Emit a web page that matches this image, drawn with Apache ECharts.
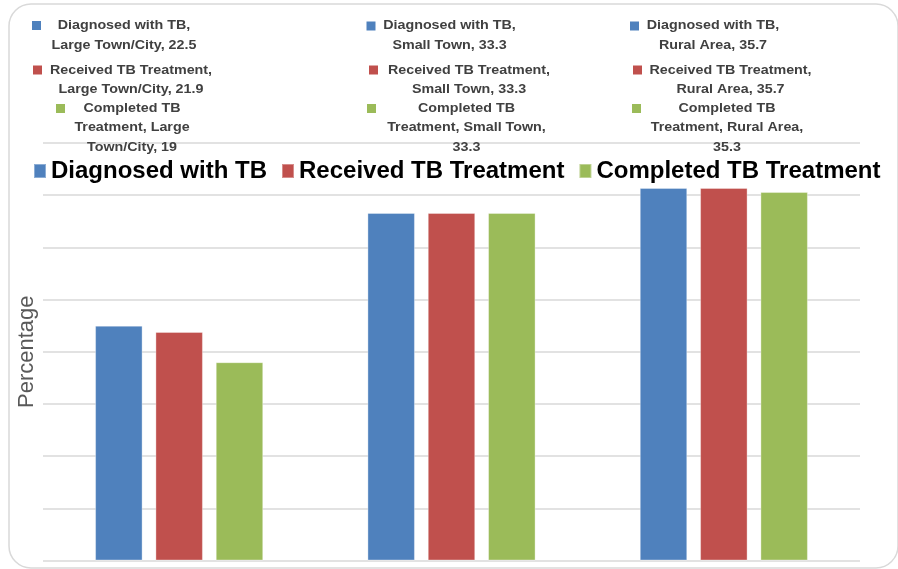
<!DOCTYPE html>
<html>
<head>
<meta charset="utf-8">
<script src="https://cdn.jsdelivr.net/npm/echarts@6/dist/echarts.min.js"></script>
<style>
html,body{margin:0;padding:0;background:#fff;}
#chart{width:898px;height:569px;}
</style>
</head>
<body>
<div id="chart"></div>
<script>
// ---- data ----
var categories = ['Large Town/City', 'Small Town', 'Rural Area'];
var seriesNames = ['Diagnosed with TB', 'Received TB Treatment', 'Completed TB Treatment'];
var diagnosed = [22.5, 33.3, 35.7];
var received = [21.9, 33.3, 35.7];
var completed = [19, 33.3, 35.3];
var yMin = 0, yMax = 40, yInterval = 5;

// ---- style / layout ----
var colors = ['#4F81BD', '#C0504D', '#9BBB59'];
var FONT = '"Liberation Sans", Arial, sans-serif';
// data label blocks placed at top: [series][category] -> centre, marker centre, words per line
var labelLayout = [
  [ {cx:124, cy:35.5, mx:36.5, my:25.5, w:[3,3]},
    {cx:449.5, cy:35.5, mx:371, my:26, w:[3,3]},
    {cx:713, cy:35.5, mx:634.5, my:26, w:[3,3]} ],
  [ {cx:131, cy:80, mx:37.5, my:70, w:[3,3]},
    {cx:469, cy:80, mx:373.5, my:70, w:[3,3]},
    {cx:730.5, cy:80, mx:637.5, my:70, w:[3,3]} ],
  [ {cx:132, cy:127.5, mx:60.5, my:108.5, w:[2,2,2]},
    {cx:466.5, cy:127.5, mx:371.5, my:108.5, w:[2,3,1]},
    {cx:727, cy:127.5, mx:636.5, my:108.5, w:[2,3,1]} ]
];

var values = [diagnosed, received, completed];

function wrapWords(str, counts) {
  var words = str.split(' ');
  var lines = [], k = 0;
  for (var i = 0; i < counts.length; i++) {
    lines.push(words.slice(k, k + counts[i]).join(' '));
    k += counts[i];
  }
  if (k < words.length) lines[lines.length - 1] += ' ' + words.slice(k).join(' ');
  return lines.join('\n');
}

var graphics = [];
// outer rounded frame
graphics.push({
  type: 'rect', x: 9, y: 4, z: 0, silent: true,
  shape: {width: 889, height: 564, r: 22},
  style: {fill: 'none', stroke: '#d9d9d9', lineWidth: 1.5}
});
for (var s = 0; s < seriesNames.length; s++) {
  for (var c = 0; c < categories.length; c++) {
    var L = labelLayout[s][c];
    var txt = seriesNames[s] + ', ' + categories[c] + ', ' + values[s][c];
    graphics.push({
      type: 'rect', x: L.mx - 4.5, y: L.my - 4.5, z: 10,
      shape: {width: 9, height: 9},
      style: {fill: colors[s]}
    });
    graphics.push({
      type: 'text', x: L.cx, y: L.cy, scaleX: 1.1, z: 10,
      style: {
        text: wrapWords(txt, L.w),
        align: 'center', verticalAlign: 'middle',
        font: 'bold 13px ' + FONT,
        lineHeight: 19.5,
        fill: '#404040'
      }
    });
  }
}

var chart = echarts.init(document.getElementById('chart'), null, {renderer: 'canvas'});
var series = seriesNames.map(function (name, i) {
  return {
    name: name,
    type: 'bar',
    data: values[i],
    barWidth: 47.5,
    barGap: '27%',
    itemStyle: {color: colors[i], borderColor: 'rgba(255,255,255,0.35)', borderWidth: 1},
    emphasis: {disabled: true}
  };
});

chart.setOption({
  animation: false,
  backgroundColor: '#ffffff',
  textStyle: {fontFamily: FONT},
  legend: {
    data: seriesNames,
    left: 33, top: 159, padding: 0,
    icon: 'rect', itemWidth: 12, itemHeight: 14, itemGap: 14,
    textStyle: {fontSize: 24, fontWeight: 'bold', color: '#000000', fontFamily: FONT}
  },
  grid: {left: 43, right: 38, top: 143, bottom: 8.5, containLabel: false},
  xAxis: {
    type: 'category', data: categories,
    axisLine: {show: false}, axisTick: {show: false}, axisLabel: {show: false}
  },
  yAxis: {
    type: 'value', min: yMin, max: yMax, interval: yInterval,
    name: 'Percentage', nameLocation: 'middle', nameGap: 5,
    nameTextStyle: {fontSize: 22, color: '#595959', fontFamily: FONT},
    axisLine: {show: false}, axisTick: {show: false}, axisLabel: {show: false},
    splitLine: {lineStyle: {color: '#d9d9d9', width: 1.5}}
  },
  graphic: graphics,
  series: series
});
</script>
</body>
</html>
